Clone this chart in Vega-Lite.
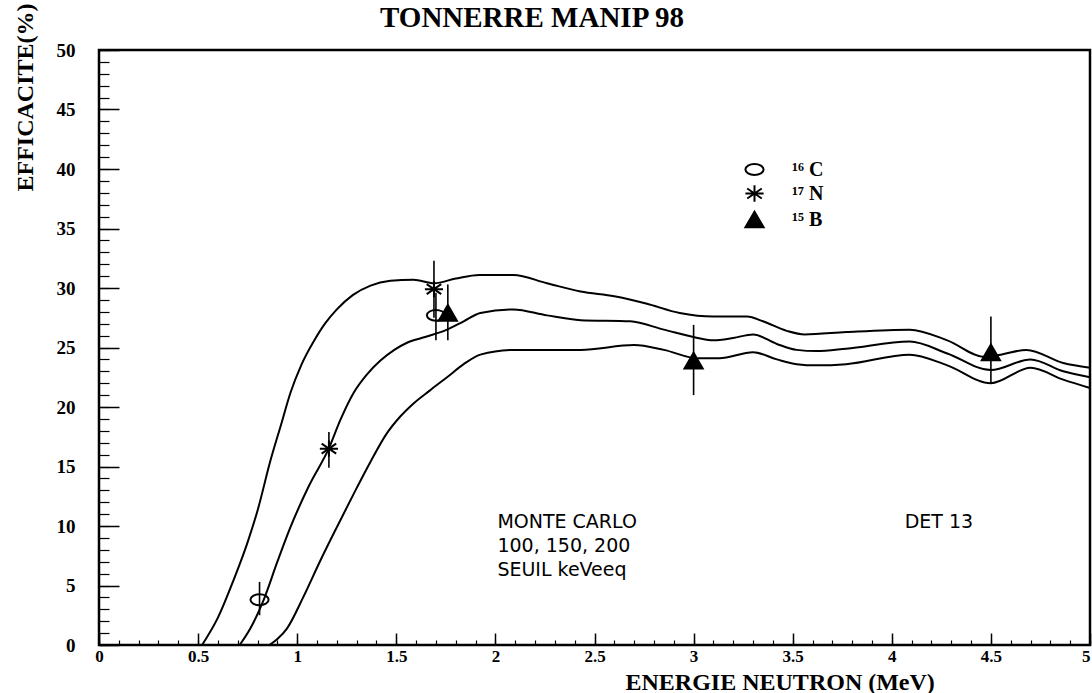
{
  "$schema": "https://vega.github.io/schema/vega-lite/v6.json",
  "width": 991,
  "height": 595,
  "autosize": {"type": "none"},
  "padding": {"left": 99, "top": 50, "right": 2, "bottom": 48},
  "background": "white",
  "title": {"text": "TONNERRE MANIP 98", "anchor": "start", "frame": "group", "dx": 281, "offset": -53, "baseline": "alphabetic", "font": "Liberation Serif", "fontSize": 29, "fontWeight": "bold", "color": "black"},
  "config": {
    "view": {"stroke": "black", "strokeWidth": 2.5},
    "axis": {"grid": false, "domain": false, "tickColor": "black", "tickWidth": 1.5, "labelColor": "black", "labelFont": "Liberation Serif", "labelFontWeight": "bold", "labelFontSize": 19, "titleColor": "black", "titleFont": "Liberation Serif", "titleFontWeight": "bold", "labelOverlap": false, "labelFlush": false, "labelBound": false, "ticks": true, "tickCount": 200}
  },
  "resolve": {"axis": {"x": "independent", "y": "independent"}},
  "datasets": {
    "curves": [
      {"thr": "100", "x": 0.52, "y": 0}, {"thr": "100", "x": 0.6, "y": 2.3}, {"thr": "100", "x": 0.68, "y": 5.5}, {"thr": "100", "x": 0.747, "y": 8.5}, {"thr": "100", "x": 0.8, "y": 11.3}, {"thr": "100", "x": 0.865, "y": 15.5}, {"thr": "100", "x": 0.92, "y": 18.6}, {"thr": "100", "x": 0.966, "y": 21.2}, {"thr": "100", "x": 1.02, "y": 23.5}, {"thr": "100", "x": 1.083, "y": 25.5}, {"thr": "100", "x": 1.14, "y": 27.0}, {"thr": "100", "x": 1.2, "y": 28.2}, {"thr": "100", "x": 1.28, "y": 29.4}, {"thr": "100", "x": 1.37, "y": 30.2}, {"thr": "100", "x": 1.47, "y": 30.6}, {"thr": "100", "x": 1.587, "y": 30.7}, {"thr": "100", "x": 1.69, "y": 30.4}, {"thr": "100", "x": 1.8, "y": 30.8}, {"thr": "100", "x": 1.92, "y": 31.1}, {"thr": "100", "x": 2.09, "y": 31.1}, {"thr": "100", "x": 2.26, "y": 30.4}, {"thr": "100", "x": 2.43, "y": 29.7}, {"thr": "100", "x": 2.6, "y": 29.3}, {"thr": "100", "x": 2.76, "y": 28.7}, {"thr": "100", "x": 2.93, "y": 27.9}, {"thr": "100", "x": 3.1, "y": 27.6}, {"thr": "100", "x": 3.27, "y": 27.6}, {"thr": "100", "x": 3.35, "y": 27.2}, {"thr": "100", "x": 3.47, "y": 26.4}, {"thr": "100", "x": 3.56, "y": 26.1}, {"thr": "100", "x": 3.77, "y": 26.3}, {"thr": "100", "x": 4.09, "y": 26.5}, {"thr": "100", "x": 4.28, "y": 25.6}, {"thr": "100", "x": 4.47, "y": 24.2}, {"thr": "100", "x": 4.55, "y": 24.4}, {"thr": "100", "x": 4.68, "y": 24.8}, {"thr": "100", "x": 4.865, "y": 23.7}, {"thr": "100", "x": 5.0, "y": 23.3},
      {"thr": "150", "x": 0.71, "y": 0}, {"thr": "150", "x": 0.764, "y": 1.4}, {"thr": "150", "x": 0.831, "y": 3.8}, {"thr": "150", "x": 0.9, "y": 7.0}, {"thr": "150", "x": 0.966, "y": 9.9}, {"thr": "150", "x": 1.06, "y": 13.4}, {"thr": "150", "x": 1.159, "y": 16.5}, {"thr": "150", "x": 1.22, "y": 19.0}, {"thr": "150", "x": 1.285, "y": 21.2}, {"thr": "150", "x": 1.35, "y": 22.7}, {"thr": "150", "x": 1.42, "y": 23.9}, {"thr": "150", "x": 1.49, "y": 24.8}, {"thr": "150", "x": 1.554, "y": 25.4}, {"thr": "150", "x": 1.65, "y": 25.9}, {"thr": "150", "x": 1.756, "y": 26.5}, {"thr": "150", "x": 1.84, "y": 27.2}, {"thr": "150", "x": 1.924, "y": 27.9}, {"thr": "150", "x": 2.09, "y": 28.2}, {"thr": "150", "x": 2.26, "y": 27.7}, {"thr": "150", "x": 2.43, "y": 27.3}, {"thr": "150", "x": 2.68, "y": 27.2}, {"thr": "150", "x": 2.85, "y": 26.5}, {"thr": "150", "x": 3.02, "y": 25.8}, {"thr": "150", "x": 3.1, "y": 25.6}, {"thr": "150", "x": 3.2, "y": 25.8}, {"thr": "150", "x": 3.3, "y": 26.1}, {"thr": "150", "x": 3.42, "y": 25.3}, {"thr": "150", "x": 3.52, "y": 24.8}, {"thr": "150", "x": 3.62, "y": 24.7}, {"thr": "150", "x": 3.77, "y": 24.9}, {"thr": "150", "x": 4.09, "y": 25.5}, {"thr": "150", "x": 4.28, "y": 24.5}, {"thr": "150", "x": 4.5, "y": 23.1}, {"thr": "150", "x": 4.7, "y": 24.0}, {"thr": "150", "x": 4.865, "y": 23.0}, {"thr": "150", "x": 5.0, "y": 22.5},
      {"thr": "200", "x": 0.86, "y": 0}, {"thr": "200", "x": 0.9, "y": 0.5}, {"thr": "200", "x": 0.949, "y": 1.4}, {"thr": "200", "x": 1.03, "y": 4.0}, {"thr": "200", "x": 1.117, "y": 7.1}, {"thr": "200", "x": 1.2, "y": 9.9}, {"thr": "200", "x": 1.285, "y": 12.7}, {"thr": "200", "x": 1.37, "y": 15.4}, {"thr": "200", "x": 1.453, "y": 17.8}, {"thr": "200", "x": 1.52, "y": 19.2}, {"thr": "200", "x": 1.587, "y": 20.3}, {"thr": "200", "x": 1.67, "y": 21.4}, {"thr": "200", "x": 1.756, "y": 22.5}, {"thr": "200", "x": 1.84, "y": 23.6}, {"thr": "200", "x": 1.924, "y": 24.4}, {"thr": "200", "x": 2.09, "y": 24.8}, {"thr": "200", "x": 2.43, "y": 24.8}, {"thr": "200", "x": 2.7, "y": 25.2}, {"thr": "200", "x": 2.85, "y": 24.8}, {"thr": "200", "x": 3.02, "y": 24.1}, {"thr": "200", "x": 3.13, "y": 24.1}, {"thr": "200", "x": 3.3, "y": 24.6}, {"thr": "200", "x": 3.42, "y": 24.0}, {"thr": "200", "x": 3.52, "y": 23.6}, {"thr": "200", "x": 3.62, "y": 23.5}, {"thr": "200", "x": 3.77, "y": 23.6}, {"thr": "200", "x": 4.09, "y": 24.4}, {"thr": "200", "x": 4.28, "y": 23.5}, {"thr": "200", "x": 4.5, "y": 22.0}, {"thr": "200", "x": 4.7, "y": 23.3}, {"thr": "200", "x": 4.865, "y": 22.3}, {"thr": "200", "x": 5.0, "y": 21.6}
    ],
    "points": [
      {"nuc": "¹⁶ C", "x": 0.81, "y": 3.8, "lo": 2.5, "hi": 5.3},
      {"nuc": "¹⁶ C", "x": 1.70, "y": 27.7, "lo": 25.6, "hi": 29.6},
      {"nuc": "¹⁷ N", "x": 1.16, "y": 16.5, "lo": 14.9, "hi": 17.9},
      {"nuc": "¹⁷ N", "x": 1.69, "y": 29.9, "lo": 27.5, "hi": 32.3},
      {"nuc": "¹⁵ B", "x": 1.76, "y": 27.9, "lo": 25.6, "hi": 30.3},
      {"nuc": "¹⁵ B", "x": 3.0, "y": 23.9, "lo": 21.0, "hi": 26.9},
      {"nuc": "¹⁵ B", "x": 4.5, "y": 24.6, "lo": 22.0, "hi": 27.6}
    ],
    "notes": [
      {"x": 2.01, "y": 10.3, "t": "MONTE CARLO"},
      {"x": 2.01, "y": 8.3, "t": "100, 150, 200"},
      {"x": 2.01, "y": 6.3, "t": "SEUIL keVeeq"},
      {"x": 4.065, "y": 10.3, "t": "DET 13"}
    ]
  },
  "layer": [
    {
      "data": {"name": "curves"},
      "mark": {"type": "line", "color": "black", "strokeWidth": 2, "interpolate": "monotone"},
      "encoding": {
        "x": {"field": "x", "type": "quantitative", "scale": {"domain": [0, 5], "nice": false},
          "axis": {"orient": "bottom", "title": "ENERGIE NEUTRON (MeV)", "values": [0, 0.5, 1, 1.5, 2, 2.5, 3, 3.5, 4, 4.5, 5],
            "labelExpr": "format(datum.value, '~g')",
            "labelAlign": {"condition": {"test": "datum.value >= 4.99", "value": "right"}, "value": "center"},
            "offset": -12, "tickSize": 12,
            "labelPadding": 3, "labelFontSize": 17, "titleFontSize": 24, "titleX": 526, "titleY": 56, "titleAnchor": "start", "titleAlign": "left", "titleBaseline": "alphabetic"}},
        "y": {"field": "y", "type": "quantitative", "scale": {"domain": [0, 50], "nice": false},
          "axis": {"orient": "left", "title": "EFFICACITE(%)", "values": [0, 5, 10, 15, 20, 25, 30, 35, 40, 45, 50],
            "labelExpr": "format(datum.value, '~g')",
            "offset": -20, "tickSize": 20,
            "labelPadding": 24, "titleFontSize": 24, "titleX": -87, "titleY": -47, "titleAlign": "right", "titleBaseline": "alphabetic", "titleAngle": -90}},
        "detail": {"field": "thr", "type": "nominal"}
      }
    },
    {
      "data": {"name": "points"},
      "mark": {"type": "rule", "color": "black", "strokeWidth": 1.6},
      "encoding": {
        "x": {"field": "x", "type": "quantitative",
          "axis": {"orient": "bottom", "title": null, "labels": false, "values": [0,0.1,0.2,0.3,0.4,0.5,0.6,0.7,0.8,0.9,1,1.1,1.2,1.3,1.4,1.5,1.6,1.7,1.8,1.9,2,2.1,2.2,2.3,2.4,2.5,2.6,2.7,2.8,2.9,3,3.1,3.2,3.3,3.4,3.5,3.6,3.7,3.8,3.9,4,4.1,4.2,4.3,4.4,4.5,4.6,4.7,4.8,4.9,5], "offset": -5, "tickSize": 5, "tickWidth": 1.2}},
        "y": {"field": "lo", "type": "quantitative",
          "axis": {"orient": "left", "title": null, "labels": false, "values": [0,1,2,3,4,5,6,7,8,9,10,11,12,13,14,15,16,17,18,19,20,21,22,23,24,25,26,27,28,29,30,31,32,33,34,35,36,37,38,39,40,41,42,43,44,45,46,47,48,49,50], "offset": -10, "tickSize": 10, "tickWidth": 1.2}},
        "y2": {"field": "hi"}
      }
    },
    {
      "data": {"name": "points"},
      "mark": {"type": "point", "filled": true, "strokeWidth": 2, "size": 330, "opacity": 1},
      "encoding": {
        "x": {"field": "x", "type": "quantitative", "axis": null},
        "y": {"field": "y", "type": "quantitative", "axis": null},
        "shape": {"field": "nuc", "type": "nominal",
          "scale": {"domain": ["¹⁶ C", "¹⁷ N", "¹⁵ B"], "range": ["M-1,0A1,0.6,0,1,1,1,0A1,0.6,0,1,1,-1,0Z", "M-1,0L1,0M-0.8,-0.55L0.8,0.55M-0.8,0.55L0.8,-0.55M0,-0.9L0,0.9", "triangle-up"]},
          "legend": {"title": null, "orient": "none", "legendX": 645, "legendY": 109, "labelFont": "Liberation Serif", "labelFontWeight": "bold", "labelFontSize": 20, "labelColor": "black", "symbolSize": 330, "symbolStrokeWidth": 2, "rowPadding": 1, "labelOffset": 27, "padding": 0}},
        "fill": {"field": "nuc", "type": "nominal",
          "scale": {"domain": ["¹⁶ C", "¹⁷ N", "¹⁵ B"], "range": ["transparent", "black", "black"]},
          "legend": {"title": null, "orient": "none", "legendX": 645, "legendY": 109, "labelFont": "Liberation Serif", "labelFontWeight": "bold", "labelFontSize": 20, "labelColor": "black", "symbolSize": 330, "symbolStrokeWidth": 2, "rowPadding": 1, "labelOffset": 27, "padding": 0}},
        "stroke": {"field": "nuc", "type": "nominal",
          "scale": {"domain": ["¹⁶ C", "¹⁷ N", "¹⁵ B"], "range": ["black", "black", "black"]},
          "legend": {"title": null, "orient": "none", "legendX": 645, "legendY": 109, "labelFont": "Liberation Serif", "labelFontWeight": "bold", "labelFontSize": 20, "labelColor": "black", "symbolSize": 330, "symbolStrokeWidth": 2, "rowPadding": 1, "labelOffset": 27, "padding": 0}}
      }
    },
    {
      "data": {"name": "notes"},
      "mark": {"type": "text", "align": "left", "baseline": "middle", "font": "DejaVu Sans", "fontSize": 19, "color": "black"},
      "encoding": {
        "x": {"field": "x", "type": "quantitative", "axis": null},
        "y": {"field": "y", "type": "quantitative", "axis": null},
        "text": {"field": "t", "type": "nominal"}
      }
    }
  ]
}
